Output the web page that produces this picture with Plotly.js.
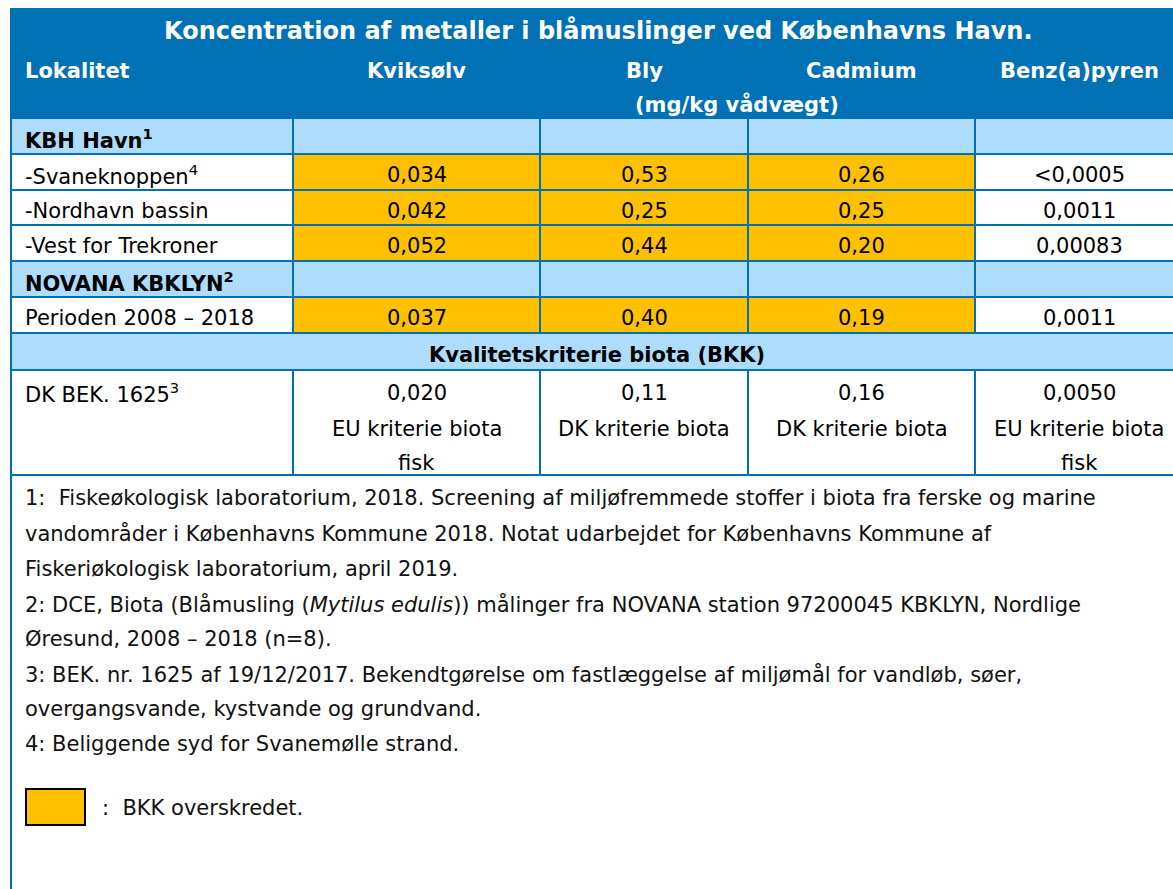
<!DOCTYPE html>
<html>
<head>
<meta charset="utf-8">
<script src="https://cdn.plot.ly/plotly-3.0.1.min.js"></script>
<style>html,body{margin:0;padding:0;background:#fff;}#chart{width:1173px;height:889px;}</style>
</head>
<body>
<div id="chart"></div>
<script>
// ---------- data ----------
const title = "Koncentration af metaller i blåmuslinger ved Københavns Havn.";
const columnHeaders = ["Lokalitet", "Kviksølv", "Bly", "Cadmium", "Benz(a)pyren"];
const unitLabel = "(mg/kg vådvægt)";
const group1Label = "KBH Havn<sup>1</sup>";
const group1Locations = ["-Svaneknoppen<sup>4</sup>", "-Nordhavn bassin", "-Vest for Trekroner"];
const group1Kviksolv = ["0,034", "0,042", "0,052"];
const group1Bly = ["0,53", "0,25", "0,44"];
const group1Cadmium = ["0,26", "0,25", "0,20"];
const group1Benzapyren = ["<0,0005", "0,0011", "0,00083"];
const group2Label = "NOVANA KBKLYN<sup>2</sup>";
const group2Locations = ["Perioden 2008 – 2018"];
const group2Kviksolv = ["0,037"];
const group2Bly = ["0,40"];
const group2Cadmium = ["0,19"];
const group2Benzapyren = ["0,0011"];
const criteriaTitle = "Kvalitetskriterie biota (BKK)";
const criteriaLabel = "DK BEK. 1625<sup>3</sup>";
const criteriaValues = ["0,020", "0,11", "0,16", "0,0050"];
const criteriaSource = [["EU kriterie biota", "fisk"], ["DK kriterie biota"], ["DK kriterie biota"], ["EU kriterie biota", "fisk"]];
const footnoteLines = [
  "1:  Fiskeøkologisk laboratorium, 2018. Screening af miljøfremmede stoffer i biota fra ferske og marine",
  "vandområder i Københavns Kommune 2018. Notat udarbejdet for Københavns Kommune af",
  "Fiskeriøkologisk laboratorium, april 2019.",
  "2: DCE, Biota (Blåmusling (<i>Mytilus edulis</i>)) målinger fra NOVANA station 97200045 KBKLYN, Nordlige",
  "Øresund, 2008 – 2018 (n=8).",
  "3: BEK. nr. 1625 af 19/12/2017. Bekendtgørelse om fastlæggelse af miljømål for vandløb, søer,",
  "overgangsvande, kystvande og grundvand.",
  "4: Beliggende syd for Svanemølle strand."
];
const legendText = ":  BKK overskredet.";

// ---------- styling / geometry ----------
const FONT = "DejaVu Sans, Verdana, sans-serif";
const FS = 21;
const C_HEAD = "#0071B4", C_LIGHT = "#ADDCFC", C_ORANGE = "#FFC000", C_BORDER = "#0071B4";
const colEdges = [11, 293, 540, 748, 975, 1183];
const headTop = 9, headBottom = 118;
const rowEdges = [118, 154, 190, 225, 261, 297, 333, 370, 475];
const footBottom = 920;

const shapes = [], annotations = [];
const num = s => parseFloat(String(s).replace("<", "").replace(",", "."));
const critNum = criteriaValues.map(num);

function rect(x0, x1, y0, y1, fill, lw, lc) {
  shapes.push({type: "rect", xref: "x", yref: "y", x0, x1, y0, y1, fillcolor: fill,
    line: {width: lw, color: lc || C_BORDER}, layer: "below"});
}
function text(t, x, y, opts) {
  opts = opts || {};
  annotations.push(Object.assign({text: t, x, y, xref: "x", yref: "y", showarrow: false,
    xanchor: "center", yanchor: "middle",
    font: {family: FONT, size: FS, color: "#000"}}, opts));
}
const colCenter = i => (colEdges[i] + colEdges[i + 1]) / 2;
const rowMid = r => (rowEdges[r] + rowEdges[r + 1]) / 2 + 3;
const LEFT = 23;

// header
rect(colEdges[0], colEdges[5], headTop, headBottom, C_HEAD, 2);
text("<b>" + title + "</b>", 598, 30, {font: {family: FONT, size: 24, color: "#fff"}});
columnHeaders.forEach((h, i) => {
  if (i === 0) text("<b>" + h + "</b>", LEFT, 71, {xanchor: "left", font: {family: FONT, size: FS, color: "#fff"}});
  else text("<b>" + h + "</b>", colCenter(i), 71, {font: {family: FONT, size: FS, color: "#fff"}});
});
text("<b>" + unitLabel + "</b>", 737, 104, {font: {family: FONT, size: FS, color: "#fff"}});

// group rows
function groupHeader(r, label) {
  for (let c = 0; c < 5; c++) rect(colEdges[c], colEdges[c + 1], rowEdges[r], rowEdges[r + 1], C_LIGHT, 2);
  text("<b>" + label + "</b>", LEFT, rowMid(r), {xanchor: "left"});
}
function dataRows(r0, locs, cols) {
  locs.forEach((loc, k) => {
    const r = r0 + k;
    rect(colEdges[0], colEdges[1], rowEdges[r], rowEdges[r + 1], "#fff", 2);
    text(loc, LEFT, rowMid(r), {xanchor: "left"});
    cols.forEach((arr, c) => {
      const exceeded = num(arr[k]) > critNum[c];
      rect(colEdges[c + 1], colEdges[c + 2], rowEdges[r], rowEdges[r + 1], exceeded ? C_ORANGE : "#fff", 2);
      text(arr[k], colCenter(c + 1), rowMid(r));
    });
  });
}
groupHeader(0, group1Label);
dataRows(1, group1Locations, [group1Kviksolv, group1Bly, group1Cadmium, group1Benzapyren]);
groupHeader(4, group2Label);
dataRows(5, group2Locations, [group2Kviksolv, group2Bly, group2Cadmium, group2Benzapyren]);

// criteria title row
rect(colEdges[0], colEdges[5], rowEdges[6], rowEdges[7], C_LIGHT, 2);
text("<b>" + criteriaTitle + "</b>", (colEdges[0] + colEdges[5]) / 2, rowMid(6));

// criteria row
const critLineY = [393, 429, 463];
rect(colEdges[0], colEdges[1], rowEdges[7], rowEdges[8], "#fff", 2);
text(criteriaLabel, LEFT, critLineY[0], {xanchor: "left"});
criteriaValues.forEach((v, c) => {
  rect(colEdges[c + 1], colEdges[c + 2], rowEdges[7], rowEdges[8], "#fff", 2);
  text(v, colCenter(c + 1), critLineY[0]);
  criteriaSource[c].forEach((s, j) => text(s, colCenter(c + 1), critLineY[j + 1]));
});

// footnote box
rect(colEdges[0], colEdges[5], rowEdges[8], footBottom, "#fff", 2);
const footY = [498, 533, 569, 604, 639, 674, 709, 744];
footnoteLines.forEach((l, i) => text(l, LEFT, footY[i], {xanchor: "left", font: {family: FONT, size: FS, color: "#111"}}));
// legend swatch
rect(26, 85, 789, 825, C_ORANGE, 2, "#000");
text(legendText, 100, 808, {xanchor: "left", font: {family: FONT, size: FS, color: "#111"}});

const layout = {
  width: 1173, height: 889,
  margin: {l: 0, r: 0, t: 0, b: 0},
  paper_bgcolor: "#fff", plot_bgcolor: "#fff",
  xaxis: {range: [0, 1173], visible: false, fixedrange: true},
  yaxis: {range: [889, 0], visible: false, fixedrange: true},
  showlegend: false,
  shapes, annotations
};
Plotly.newPlot("chart", [{type: "scatter", x: [], y: [], hoverinfo: "skip"}], layout, {staticPlot: true, displayModeBar: false});
</script>
</body>
</html>
